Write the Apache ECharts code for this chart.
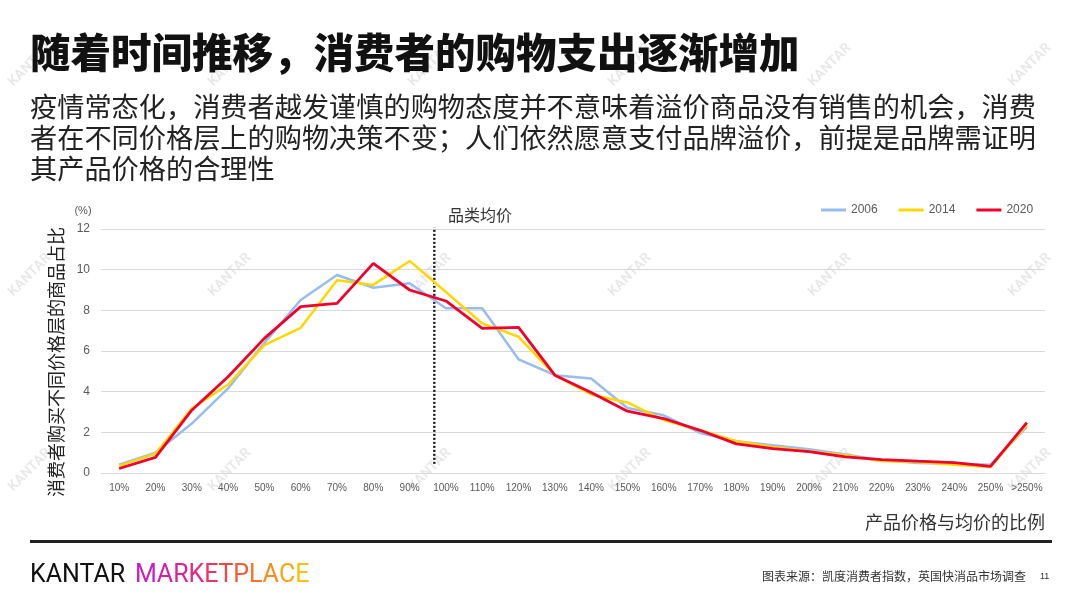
<!DOCTYPE html>
<html lang="zh-CN">
<head>
  <meta charset="UTF-8">
  <title>随着时间推移，消费者的购物支出逐渐增加</title>
  <style>
    * { margin: 0; padding: 0; }
    body { background: #fff; }
    #main { width: 1080px; height: 607px; }
  </style>
</head>
<body>
  <div id="main"></div>
  <script src="https://cdn.jsdelivr.net/npm/echarts@6/dist/echarts.min.js"></script>
  <script>
    // 价格层（相对品类均价）
    const categories = ['10%', '20%', '30%', '40%', '50%', '60%', '70%', '80%', '90%', '100%',
      '110%', '120%', '130%', '140%', '150%', '160%', '170%', '180%', '190%', '200%',
      '210%', '220%', '230%', '240%', '250%', '>250%'];

    // 各年份的商品占比 (%)
    const y2006 = [0.41, 1.0, 2.43, 4.16, 6.4, 8.51, 9.74, 9.11, 9.33, 8.1,
      8.1, 5.59, 4.81, 4.65, 3.2, 2.84, 1.97, 1.56, 1.36, 1.17,
      0.91, 0.63, 0.49, 0.46, 0.41, 2.27];
    const y2014 = [0.35, 0.95, 3.17, 4.35, 6.29, 7.14, 9.48, 9.25, 10.43, 8.9,
      7.36, 6.7, 4.81, 3.86, 3.47, 2.6, 2.1, 1.56, 1.28, 1.07,
      0.87, 0.59, 0.54, 0.41, 0.3, 2.38];
    const y2020 = [0.22, 0.77, 3.09, 4.73, 6.62, 8.18, 8.34, 10.31, 9.0, 8.46,
      7.11, 7.16, 4.81, 3.96, 3.04, 2.68, 2.1, 1.43, 1.2, 1.05,
      0.79, 0.66, 0.58, 0.51, 0.33, 2.48];

    const yTicks = [0, 2, 4, 6, 8, 10, 12];
    // 品类均价所在位置（类目序号，介于 90% 与 100% 之间），虚线从 0.45 画到 12.25
    const avgLine = [[8.68, 0.45], [8.68, 12.25]];

    const cjk = '"Noto Sans CJK SC", "Noto Sans", sans-serif';

    // 水印
    const marks = [];
    [65, 275, 470].forEach(y => {
      [30, 230, 430, 630, 830, 1030].forEach(x => {
        marks.push({
          type: 'text', x: x, y: y, rotation: Math.PI / 4, z: -10, silent: true,
          style: {
            text: 'KANTAR', font: 'bold 14px Roboto, sans-serif', fill: 'rgba(0,0,0,0.09)',
            align: 'center', verticalAlign: 'middle'
          }
        });
      });
    });

    // MARKETPLACE 渐变字（逐字着色）
    const mpColors = ['#C81EC0', '#D21FB0', '#DD2298', '#E6287E', '#EE3364', '#F2454A',
      '#F45A33', '#F57226', '#F68C1C', '#F5A714', '#F4C20C'];
    const mpRich = {};
    let mpText = '';
    'MARKETPLACE'.split('').forEach((ch, i) => {
      mpRich['c' + i] = { fill: mpColors[i], font: '25px Roboto, sans-serif' };
      mpText += '{c' + i + '|' + ch + '}';
    });

    const chart = echarts.init(document.getElementById('main'), null, { renderer: 'canvas' });

    const option = {
      backgroundColor: '#fff',
      animation: false,
      textStyle: { fontFamily: cjk },
      legend: {
        left: 816, top: 199,
        itemWidth: 25, itemHeight: 3, itemGap: 21,
        icon: 'rect',
        textStyle: { color: '#595959', fontSize: 12, fontFamily: '"Liberation Sans", sans-serif' },
        data: ['2006', '2014', '2020']
      },
      grid: { left: 101, right: 35, top: 229, bottom: 134 },
      xAxis: [{
        type: 'category',
        data: categories,
        boundaryGap: true,
        axisLine: { show: true, lineStyle: { color: '#d9d9d9' } },
        axisTick: { show: false },
        axisLabel: { interval: 0, color: '#595959', fontSize: 10, margin: 10, fontFamily: '"Liberation Sans", sans-serif' }
      }, {
        type: 'value', min: -0.5, max: 25.5, show: false
      }],
      yAxis: {
        type: 'value',
        min: yTicks[0], max: yTicks[yTicks.length - 1], interval: 2,
        axisLine: { show: false },
        axisTick: { show: false },
        splitLine: { lineStyle: { color: '#d9d9d9', width: 1 } },
        axisLabel: { color: '#595959', fontSize: 12, margin: 11, fontFamily: '"Liberation Sans", sans-serif' }
      },
      series: [
        {
          name: '2006', type: 'line', data: y2006, symbol: 'none',
          lineStyle: { color: '#97BDF0', width: 2.5 }, itemStyle: { color: '#97BDF0' }
        },
        {
          name: '2014', type: 'line', data: y2014, symbol: 'none',
          lineStyle: { color: '#FFD700', width: 2.5 }, itemStyle: { color: '#FFD700' }
        },
        {
          name: '2020', type: 'line', data: y2020, symbol: 'none',
          lineStyle: { color: '#F0002D', width: 2.8 }, itemStyle: { color: '#F0002D' }
        },
        {
          name: '品类均价', type: 'line', xAxisIndex: 1, data: avgLine, symbol: 'none', silent: true,
          z: 1,
          lineStyle: { color: '#222', type: [2, 2], width: 2.5 }
        }
      ],
      graphic: marks.concat([
        {
          type: 'text', left: 30, top: 32,
          style: { text: '随着时间推移，消费者的购物支出逐渐增加', font: '900 40.5px ' + cjk, fill: '#111' }
        },
        {
          type: 'text', left: 30, top: 91,
          style: {
            text: '疫情常态化，消费者越发谨慎的购物态度并不意味着溢价商品没有销售的机会，消费\n者在不同价格层上的购物决策不变；人们依然愿意支付品牌溢价，前提是品牌需证明\n其产品价格的合理性',
            font: '27.2px ' + cjk, lineHeight: 31, fill: '#222'
          }
        },
        {
          type: 'text', x: 83, y: 211,
          style: { text: '(%)', font: '11px "Liberation Sans", sans-serif', fill: '#595959', align: 'center', verticalAlign: 'middle' }
        },
        {
          type: 'text', x: 56, y: 362, rotation: Math.PI / 2,
          style: { text: '消费者购买不同价格层的商品占比', font: '18px ' + cjk, fill: '#222', align: 'center', verticalAlign: 'middle' }
        },
        {
          type: 'text', x: 448, y: 215,
          style: { text: '品类均价', font: '16px ' + cjk, fill: '#333', verticalAlign: 'middle' }
        },
        {
          type: 'text', right: 35, top: 513,
          style: { text: '产品价格与均价的比例', font: '18px ' + cjk, fill: '#333' }
        },
        {
          type: 'rect', shape: { x: 30, y: 540, width: 1022, height: 3 },
          style: { fill: '#222' }
        },
        {
          type: 'text', x: 30, y: 576,
          style: { text: 'KANTAR', font: '25px Roboto, sans-serif', fill: '#111', verticalAlign: 'middle' }
        },
        {
          type: 'text', x: 135, y: 576,
          style: { text: mpText, rich: mpRich, font: '25px Roboto, sans-serif', verticalAlign: 'middle' }
        },
        {
          type: 'text', right: 54, top: 570,
          style: { text: '图表来源：凯度消费者指数，英国快消品市场调查', font: '12px ' + cjk, fill: '#333' }
        },
        {
          type: 'text', x: 1040, y: 577,
          style: { text: '11', font: '9px "Liberation Sans", sans-serif', fill: '#333', verticalAlign: 'middle' }
        }
      ])
    };

    chart.setOption(option);
  </script>
</body>
</html>
